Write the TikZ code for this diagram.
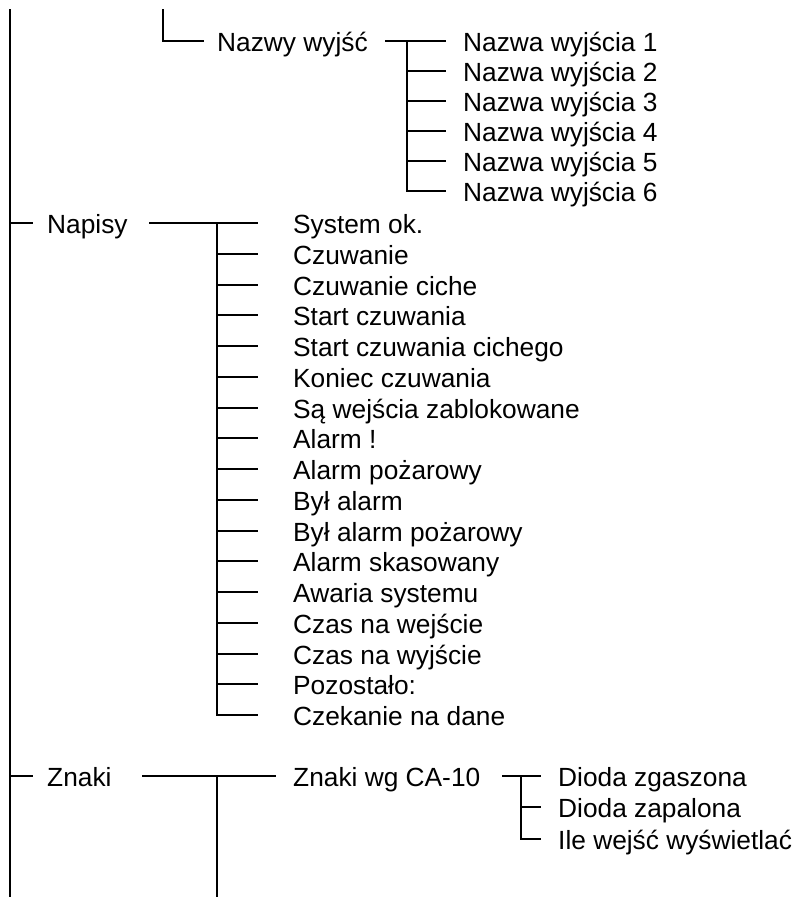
\documentclass[tikz,border=0pt]{standalone}
\usepackage{fontspec}
\setmainfont{Liberation Sans}
\usetikzlibrary{calc}
\begin{document}
\begin{tikzpicture}[x=1pt,y=-1pt,
  ln/.style={line width=1.6pt, line cap=rect},
  lbl/.style={anchor=base west, inner sep=0pt, font=\fontsize{26.3}{30}\selectfont}]
\useasboundingbox (0,0) rectangle (797,897);
% main spine
\coordinate (top) at (10,10);
\coordinate (bot) at (10,897);
\draw[ln] (top) -- (bot);
% top L and Nazwy wyjsc
\coordinate (Ltop) at (163,10);
\coordinate (Lc) at (163,41);
\node[lbl] (nw) at (217,51.5) {Nazwy wyjść};
\draw[ln] (Ltop) -- (Lc) -- ([xshift=-14pt]nw.west |- Lc);
\coordinate (nwv) at (407,41);
\draw[ln] ([xshift=18pt]nw.east |- nwv) -- (nwv);
\foreach \i/\y in {1/41,2/71,3/101,4/131,5/161,6/191}{
  \coordinate (nb\i) at (407,\y);
  \node[lbl] (n\i) at (463,\y+10.5) {Nazwa wyjścia \i};
  \draw[ln] (nb\i) -- ([xshift=-18pt]n\i.west |- nb\i);
}
\draw[ln] (nb1) -- (nb6);
% Napisy
\coordinate (sp1) at (10,223);
\node[lbl] (napisy) at (47,233.5) {Napisy};
\draw[ln] (sp1) -- ([xshift=-15pt]napisy.west |- sp1);
\coordinate (pv) at (217,223);
\draw[ln] ([xshift=22pt]napisy.east |- pv) -- (pv);
\foreach \i/\t in {0/{System ok.},1/{Czuwanie},2/{Czuwanie ciche},3/{Start czuwania},
  4/{Start czuwania cichego},5/{Koniec czuwania},6/{Są wejścia zablokowane},7/{Alarm !},
  8/{Alarm pożarowy},9/{Był alarm},10/{Był alarm pożarowy},11/{Alarm skasowany},
  12/{Awaria systemu},13/{Czas na wejście},14/{Czas na wyjście},15/{Pozostało:},
  16/{Czekanie na dane}}{
  \pgfmathsetmacro\yy{round(223+30.75*\i)}
  \coordinate (pb\i) at (217,\yy);
  \node[lbl] (p\i) at (293,\yy+10.5) {\t};
  \draw[ln] (pb\i) -- ([xshift=-36pt]p\i.west |- pb\i);
}
\draw[ln] (pb0) -- (pb16);
% Znaki
\coordinate (sp2) at (10,776);
\node[lbl] (znaki) at (47,786.5) {Znaki};
\draw[ln] (sp2) -- ([xshift=-15pt]znaki.west |- sp2);
\node[lbl] (zwg) at (293,786.5) {Znaki wg CA-10};
\coordinate (zv) at (217,776);
\coordinate (zvb) at (217,897);
\draw[ln] ([xshift=31pt]znaki.east |- zv) -- ([xshift=-18pt]zwg.west |- zv);
\draw[ln] (zv) -- (zvb);
\coordinate (dv1) at (521,776);
\coordinate (dv2) at (521,807);
\coordinate (dv3) at (521,839);
\draw[ln] ([xshift=22pt]zwg.east |- dv1) -- (dv1);
\node[lbl] (d1) at (558,786.5) {Dioda zgaszona};
\node[lbl] (d2) at (558,817.5) {Dioda zapalona};
\node[lbl] (d3) at (558,849.5) {Ile wejść wyświetlać};
\draw[ln] (dv1) -- ([xshift=-18pt]d1.west |- dv1);
\draw[ln] (dv2) -- ([xshift=-18pt]d2.west |- dv2);
\draw[ln] (dv3) -- ([xshift=-18pt]d3.west |- dv3);
\draw[ln] (dv1) -- (dv3);
\end{tikzpicture}
\end{document}
